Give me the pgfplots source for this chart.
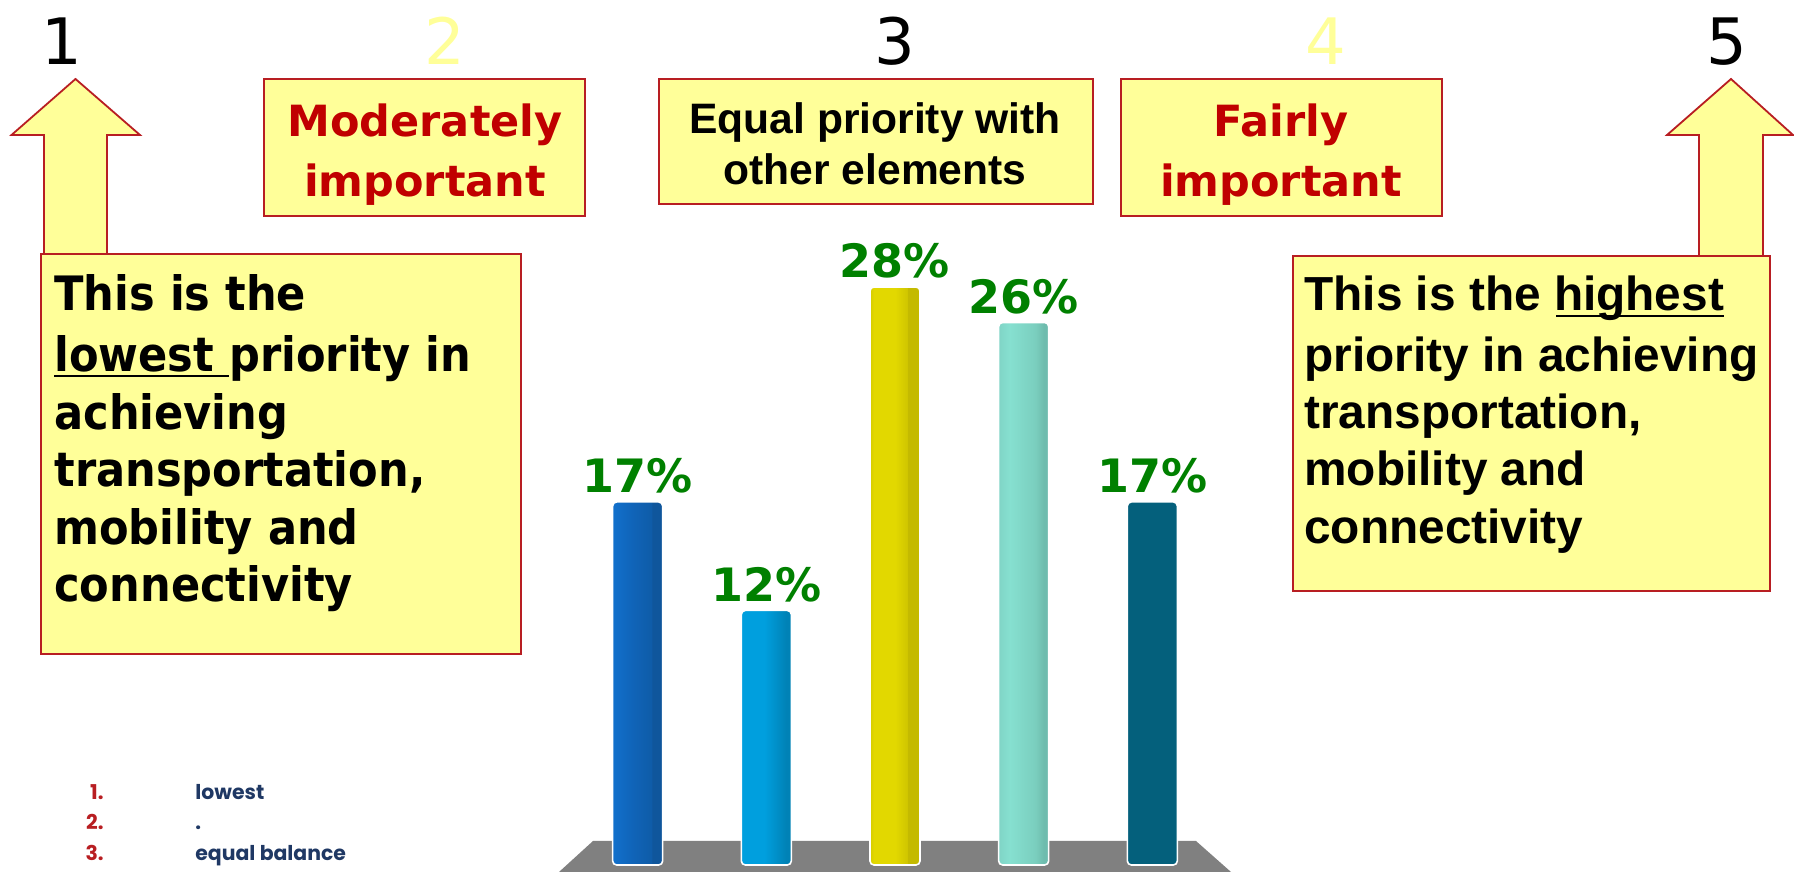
\documentclass[border=0pt]{standalone}
\usepackage{fontspec}
\usepackage{pgfplots}
\pgfplotsset{compat=1.18}
\setmainfont{DejaVu Sans}
\newfontfamily\arialf{Liberation Sans}
\newfontfamily\gothicf{Poppins}
\newfontfamily\lowf[FakeStretch=0.91]{DejaVu Sans}
\definecolor{boxfill}{HTML}{FFFF99}
\definecolor{boxline}{HTML}{B81E22}
\definecolor{headred}{HTML}{C00000}
\definecolor{labgreen}{HTML}{008000}
\definecolor{navy}{HTML}{1F3864}
\definecolor{listred}{HTML}{B81E22}
\definecolor{barAa}{HTML}{1170CC}\definecolor{barAb}{HTML}{1064B8}\definecolor{barAc}{HTML}{0F5CA8}\definecolor{barAd}{HTML}{0F569C}
\definecolor{barBa}{HTML}{009FDE}\definecolor{barBb}{HTML}{0082B6}
\definecolor{barCa}{HTML}{D6CC00}\definecolor{barCb}{HTML}{E2D800}\definecolor{barCc}{HTML}{D0C600}\definecolor{barCd}{HTML}{C4BA00}
\definecolor{barDa}{HTML}{80D4C6}\definecolor{barDb}{HTML}{86E0D0}\definecolor{barDc}{HTML}{7ACEBE}\definecolor{barDd}{HTML}{6EBCAE}
\definecolor{barEa}{HTML}{04607C}
\pgfdeclarehorizontalshading{barA}{100bp}{color(0bp)=(barAa);color(25bp)=(barAa);color(45bp)=(barAb);color(64bp)=(barAc);color(64.5bp)=(barAd);color(75bp)=(barAd);color(100bp)=(barAd)}
\pgfdeclarehorizontalshading{barB}{100bp}{color(0bp)=(barBa);color(25bp)=(barBa);color(48bp)=(barBa);color(70bp)=(barBb);color(75bp)=(barBb);color(100bp)=(barBb)}
\pgfdeclarehorizontalshading{barC}{100bp}{color(0bp)=(barCa);color(25bp)=(barCa);color(29bp)=(barCb);color(50bp)=(barCb);color(62bp)=(barCc);color(63bp)=(barCd);color(75bp)=(barCd);color(100bp)=(barCd)}
\pgfdeclarehorizontalshading{barD}{100bp}{color(0bp)=(barDa);color(25bp)=(barDa);color(36bp)=(barDb);color(62bp)=(barDc);color(70bp)=(barDd);color(75bp)=(barDd);color(100bp)=(barDd)}
\pgfdeclarehorizontalshading{barE}{100bp}{color(0bp)=(barEa);color(25bp)=(barEa);color(100bp)=(barEa)}
\newcommand{\sz}[1]{\fontsize{#1}{#1}\selectfont}
\begin{document}
\begin{tikzpicture}
\path[use as bounding box] (0,0) rectangle (897pt,436pt);
% grey floor, in reference pixels from the top left
\begin{scope}[shift={(0,436pt)},x=0.5pt,y=-0.5pt]
\fill[black!50] (593,841) -- (1196,841) -- (1231,872) -- (559,872) -- cycle;
\end{scope}
\begin{axis}[
    at={(254.5pt,3.5pt)}, anchor=south west,
    scale only axis, width=386pt, height=313pt,
    hide axis, clip=false,
    xmin=-1, xmax=5, ymin=0, ymax=30,
    ybar, bar width=25pt, bar shift=0pt,
    nodes near coords={\pgfmathprintnumber[assume math mode=true,fixed,precision=0]{\pgfplotspointmeta}\%},
    every node near coord/.style={font=\sz{23}\bfseries, text=labgreen, anchor=south, inner sep=1pt, yshift=2.8pt},
]
\addplot[draw=white, line width=0.8pt, rounded corners=2pt, shading=barA] coordinates {(0,17.4)};
\addplot[draw=white, line width=0.8pt, rounded corners=2pt, shading=barB] coordinates {(1,12.2)};
\addplot[draw=white, line width=0.8pt, rounded corners=2pt, shading=barC] coordinates {(2,27.7)};
\addplot[draw=white, line width=0.8pt, rounded corners=2pt, shading=barD] coordinates {(3,26.0)};
\addplot[draw=white, line width=0.8pt, rounded corners=2pt, shading=barE] coordinates {(4,17.4)};
\end{axis}
\begin{scope}[shift={(0,436pt)},x=0.5pt,y=-0.5pt]
\tikzset{deco/.style={draw=boxline, fill=boxfill, line width=0.9pt, line join=miter}}
% arrows
\draw[deco] (75.5,79) -- (140,135) -- (107,135) -- (107,256) -- (44,256) -- (44,135) -- (11.5,135) -- cycle;
\draw[deco] (1731,79) -- (1793,135) -- (1763,135) -- (1763,258) -- (1699,258) -- (1699,135) -- (1667,135) -- cycle;
% boxes
\draw[deco] (264,79) rectangle (585,216);
\draw[deco] (659,79) rectangle (1093,204);
\draw[deco] (1121,79) rectangle (1442,216);
\draw[deco] (41,254) rectangle (521,654);
\draw[deco] (1293,256) rectangle (1770,591);
% scale numbers
\foreach \n/\xx/\cc in {1/62/black,2/445/boxfill,3/895/black,4/1326/boxfill,5/1727/black}
  \node[anchor=base, text=\cc, font=\sz{32}, inner sep=0pt] at (\xx,65) {\n};
% headings
\tikzset{hd/.style={anchor=base, inner sep=0pt, text=headred, font=\sz{21.5}\bfseries},
         hb/.style={anchor=base, inner sep=0pt, font=\arialf\sz{21.3}\bfseries}}
\node[hd] at (425,137) {Moderately};
\node[hd] at (425,197) {important};
\node[hd] at (1281,137) {Fairly};
\node[hd] at (1281,197) {important};
\node[hb] at (875,134) {Equal priority with};
\node[hb] at (875,185) {other elements};
% left box
\tikzset{lf/.style={anchor=base west, inner sep=0pt, font=\lowf\sz{23.7}\bfseries},
         rt/.style={anchor=base west, inner sep=0pt, font=\arialf\sz{23.9}\bfseries}}
\node[lf] at (54,311) {This is the};
\node[lf] at (54,372) {lowest priority in};
\node[lf] at (54,430) {achieving};
\node[lf] at (54,487) {transportation,};
\node[lf] at (54,545) {mobility and};
\node[lf] at (54,602) {connectivity};
\draw[line width=1pt] (54,376) -- (229,376);
% right box
\node[rt] at (1304,311) {This is the highest};
\node[rt] at (1304,372) {priority in achieving};
\node[rt] at (1304,429) {transportation,};
\node[rt] at (1304,486) {mobility and};
\node[rt] at (1304,544) {connectivity};
\draw[line width=1pt] (1556,316) -- (1724,316);
% small list
\tikzset{ln/.style={anchor=base east, inner sep=0pt, text=listred, font=\gothicf\sz{10.2}\bfseries},
         lt/.style={anchor=base west, inner sep=0pt, text=navy, font=\gothicf\sz{10.2}\bfseries}}
\node[ln] at (104,800) {1.};
\node[ln] at (104,830) {2.};
\node[ln] at (104,861) {3.};
\node[lt] at (195,800) {lowest};
\node[lt] at (195,830) {.};
\node[lt] at (195,861) {equal balance};
\end{scope}
\end{tikzpicture}
\end{document}
